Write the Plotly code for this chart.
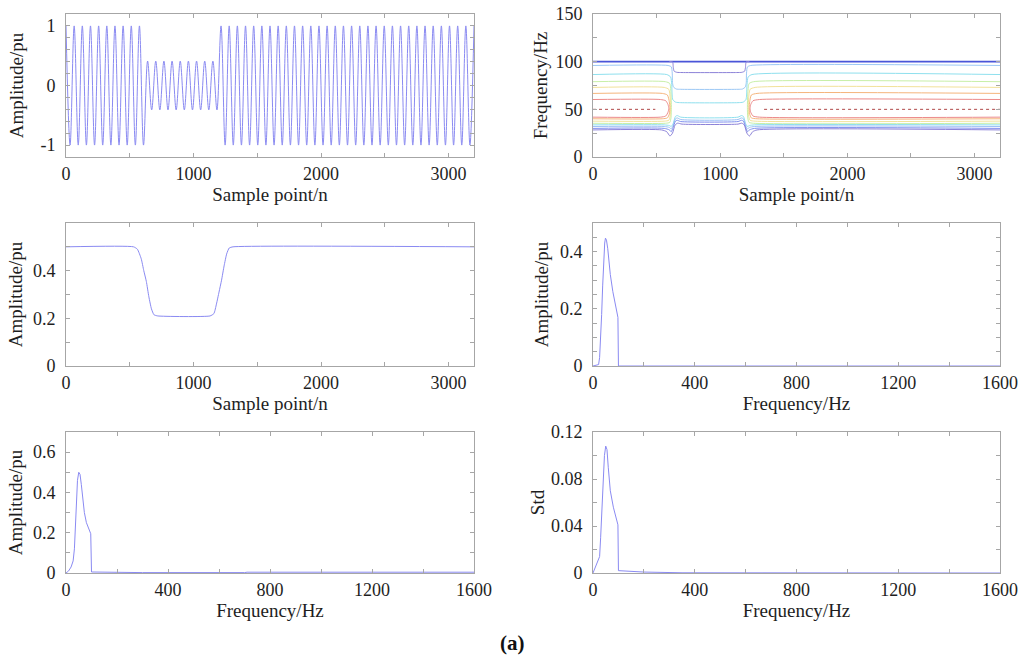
import plotly.graph_objects as go
from plotly.subplots import make_subplots

# ---- signal (extrema every 32 samples) ----
sig_n = list(range(0, 3201, 32))
sig_v = [
    1, -1, 1, -1, 1, -1, 1, -1, 1, -1,
    1, -1, 1, -1, 1, -1, 1, -1, 1, -1,
    0.41, -0.41, 0.41, -0.41, 0.41, -0.41, 0.41, -0.41, 0.41, -0.41,
    0.41, -0.41, 0.41, -0.41, 0.41, -0.41, 0.41, -0.41,
    1, -1, 1, -1, 1, -1, 1, -1, 1, -1,
    1, -1, 1, -1, 1, -1, 1, -1, 1, -1,
    1, -1, 1, -1, 1, -1, 1, -1, 1, -1,
    1, -1, 1, -1, 1, -1, 1, -1, 1, -1,
    1, -1, 1, -1, 1, -1, 1, -1, 1, -1,
    1, -1, 1, -1, 1, -1, 1, -1, 1, -1,
    1, -1, 1,
]

# ---- amplitude envelope (middle-left) ----
env_n = [0, 530, 560, 590, 610, 630, 650, 670, 690, 720, 1130, 1160, 1180, 1200, 1220, 1240, 1260, 1280, 1310, 3200]
env_v = [0.5, 0.5, 0.49, 0.45, 0.40, 0.355, 0.29, 0.24, 0.215, 0.21, 0.21, 0.22, 0.26, 0.31, 0.36, 0.42, 0.47, 0.495, 0.5, 0.5]

# ---- spectra ----
spec1_f = [0, 10, 22, 26, 30, 34, 38, 42, 46, 49, 53, 58, 63, 68, 78, 88, 98, 100, 1600]
spec1_v = [0, 0.002, 0.005, 0.03, 0.09, 0.18, 0.28, 0.37, 0.43, 0.447, 0.44, 0.41, 0.36, 0.32, 0.26, 0.21, 0.17, 0.0, 0.0]

spec2_f = [0, 10, 20, 28, 33, 37, 41, 45, 50, 55, 60, 66, 72, 80, 90, 97, 100, 300, 700, 710, 1600]
spec2_v = [0, 0.01, 0.03, 0.06, 0.12, 0.25, 0.37, 0.46, 0.5, 0.49, 0.44, 0.36, 0.3, 0.25, 0.215, 0.195, 0.005, 0.002, 0.002, 0.004, 0.004]

std_f = [0, 10, 26, 30, 35, 40, 45, 50, 55, 60, 68, 80, 90, 98, 100, 150, 200, 350, 1600]
std_v = [0, 0.006, 0.014, 0.03, 0.05, 0.08, 0.1, 0.108, 0.105, 0.09, 0.07, 0.056, 0.047, 0.041, 0.002, 0.0015, 0.0008, 0.0002, 0.0]

# ---- contour lines of the time-frequency map (top-right) ----
c100_x = [0, 3200]
c100_y = [100, 100]

cpur_up_x = [600, 624, 629, 631, 638, 660, 700, 1130, 1170, 1192, 1199, 1201, 1206, 1230]
cpur_up_y = [100, 100, 98, 94, 90, 88.8, 88.6, 88.6, 88.8, 90, 94, 98, 100, 100]

clbl_up_x = [0, 590, 616, 623, 625, 632, 655, 690, 1140, 1175, 1198, 1205, 1207, 1214, 1240, 3200]
clbl_up_y = [96, 96, 94.5, 88, 78, 73.5, 71.3, 71, 71, 71.3, 73.5, 78, 88, 94.5, 96, 96]

ccyan_up_x = [0, 580, 610, 619, 622, 628, 650, 690, 1140, 1180, 1202, 1208, 1211, 1220, 1250, 3200]
ccyan_up_y = [86.5, 86.5, 84, 76, 65, 60, 57.5, 57, 57, 57.5, 60, 65, 76, 84, 86.5, 86.5]

cgreen_x = [0, 570, 604, 613, 616, 613, 604, 570, 0, None, 3200, 1262, 1227, 1217, 1214, 1217, 1227, 1262, 3200]
cgreen_y = [79, 79, 77, 66, 52, 41, 36.3, 35.4, 35.4, None, 79, 79, 77, 66, 52, 41, 36.3, 35.4, 35.4]

cyell_x = [0, 560, 596, 607, 610, 607, 596, 560, 0, None, 3200, 1275, 1235, 1224, 1221, 1224, 1235, 1275, 3200]
cyell_y = [73, 73, 71, 62, 52, 43, 38.5, 37.6, 37.6, None, 73, 73, 71, 62, 52, 43, 38.5, 37.6, 37.6]

corng_x = [0, 545, 585, 600, 604, 600, 585, 545, 0, None, 3200, 1290, 1245, 1232, 1228, 1232, 1245, 1290, 3200]
corng_y = [66.7, 66.7, 65, 58, 52, 45, 41, 40.1, 40.1, None, 66.7, 66.7, 65, 58, 52, 45, 41, 40.1, 40.1]

cred_x = [0, 530, 572, 590, 596, 590, 572, 530, 0, None, 3200, 1310, 1258, 1240, 1235, 1240, 1258, 1310, 3200]
cred_y = [60.3, 60.3, 59, 55, 51, 47, 43, 41.8, 41.8, None, 60.3, 60.3, 59, 55, 51, 47, 43, 41.8, 41.8]

clow_x = [0, 560, 600, 615, 630, 648, 662, 690, 1140, 1168, 1183, 1200, 1215, 1230, 1270, 3200]
ccyan_lo_y = [33.7, 33.7, 33, 32, 35, 42.5, 43.5, 41.8, 41.8, 43.5, 42.5, 35, 32, 33, 33.7, 33.7]
clbl_lo_y = [32, 32, 31, 29.5, 33, 40, 41, 39.3, 39.3, 41, 40, 33, 29.5, 31, 32, 32]
cblue_lo_y = [30, 30, 28.5, 26.5, 31, 37.5, 38.5, 37.2, 37.2, 38.5, 37.5, 31, 26.5, 28.5, 30, 30]

cpur_lo_x = [0, 540, 580, 605, 625, 645, 665, 700, 1140, 1170, 1190, 1210, 1230, 1255, 1290, 3200]
cpur_lo_y = [28.4, 28.4, 26.5, 22, 25, 33.5, 35.5, 34.5, 34.5, 35.5, 33.5, 25, 22, 26.5, 28.4, 28.4]

cridge_x = [0, 490, None, 1345, 3200]
cridge_y = [50, 50, None, 50, 50]

# ---- tick labels ----
n_ticks = [0, 500, 1000, 1500, 2000, 2500, 3000]
n_text = ['0', '', '1000', '', '2000', '', '3000']
f_ticks = [0, 200, 400, 600, 800, 1000, 1200, 1400, 1600]
f_text = ['0', '', '400', '', '800', '', '1200', '', '1600']
sig_ticks = [-1, -0.8, -0.6, -0.4, -0.2, 0, 0.2, 0.4, 0.6, 0.8, 1]
sig_text = ['-1', '', '', '', '', '0', '', '', '', '', '1']
hz_ticks = [0, 25, 50, 75, 100, 125, 150]
hz_text = ['0', '', '50', '', '100', '', '150']
env_ticks = [0, 0.1, 0.2, 0.3, 0.4, 0.5]
env_text = ['0', '', '0.2', '', '0.4', '']
s1_ticks = [0, 0.05, 0.1, 0.15, 0.2, 0.25, 0.3, 0.35, 0.4, 0.45]
s1_text = ['0', '', '', '', '0.2', '', '', '', '0.4', '']
s2_ticks = [0, 0.1, 0.2, 0.3, 0.4, 0.5, 0.6]
s2_text = ['0', '', '0.2', '', '0.4', '', '0.6']
std_ticks = [0, 0.02, 0.04, 0.06, 0.08, 0.1, 0.12]
std_text = ['0', '', '0.04', '', '0.08', '', '0.12']

line_col = '#8a8af2'
FONT = 'Liberation Serif'
TXT = '#1e1e1e'

fig = make_subplots(rows=3, cols=2)

fig.add_trace(go.Scatter(x=sig_n, y=sig_v, mode='lines',
                         line=dict(color=line_col, width=1, shape='spline', smoothing=1.0)), row=1, col=1)

contours = [
    (c100_x, c100_y, '#4a55d8', 1.6, 'solid'),
    (cpur_up_x, cpur_up_y, '#8c82d8', 1, 'solid'),
    (clbl_up_x, clbl_up_y, '#9cc8f5', 1, 'solid'),
    (ccyan_up_x, ccyan_up_y, '#8fe0ee', 1, 'solid'),
    (cgreen_x, cgreen_y, '#c8efa8', 1, 'solid'),
    (cyell_x, cyell_y, '#f2e29a', 1, 'solid'),
    (corng_x, corng_y, '#f5b57c', 1, 'solid'),
    (cred_x, cred_y, '#ec8a8a', 1, 'solid'),
    (clow_x, ccyan_lo_y, '#8fe0ee', 1, 'solid'),
    (clow_x, clbl_lo_y, '#9cc0f5', 1, 'solid'),
    (clow_x, cblue_lo_y, '#7f90ee', 1, 'solid'),
    (cpur_lo_x, cpur_lo_y, '#8c82d8', 1, 'solid'),
    (cridge_x, cridge_y, '#b04848', 1, 'dot'),
]
for cx, cy, col, w, dash in contours:
    fig.add_trace(go.Scatter(x=cx, y=cy, mode='lines',
                             line=dict(color=col, width=w, dash=dash, shape='spline', smoothing=0.6)),
                  row=1, col=2)

fig.add_trace(go.Scatter(x=env_n, y=env_v, mode='lines',
                         line=dict(color=line_col, width=1, shape='spline', smoothing=0.5)), row=2, col=1)
fig.add_trace(go.Scatter(x=spec1_f, y=spec1_v, mode='lines',
                         line=dict(color=line_col, width=1)), row=2, col=2)
fig.add_trace(go.Scatter(x=spec2_f, y=spec2_v, mode='lines',
                         line=dict(color=line_col, width=1)), row=3, col=1)
fig.add_trace(go.Scatter(x=std_f, y=std_v, mode='lines',
                         line=dict(color=line_col, width=1)), row=3, col=2)

xdom_l = [66 / 1024, 474 / 1024]
xdom_r = [593 / 1024, 1000 / 1024]
ydoms = [[1 - 157 / 671, 1 - 14 / 671], [1 - 366 / 671, 1 - 223 / 671], [1 - 573 / 671, 1 - 432 / 671]]

axis_common = dict(showline=True, linecolor='#a6a6a6', linewidth=1, mirror='allticks',
                   ticks='inside', ticklen=4, tickcolor='#a6a6a6', showgrid=False, zeroline=False,
                   automargin=False, tickfont=dict(family=FONT, size=18, color=TXT))

xspec = [
    (1, 1, [0, 3200], n_ticks, n_text, 'Sample point/n'),
    (1, 2, [0, 3200], n_ticks, n_text, 'Sample point/n'),
    (2, 1, [0, 3200], n_ticks, n_text, 'Sample point/n'),
    (2, 2, [0, 1600], f_ticks, f_text, 'Frequency/Hz'),
    (3, 1, [0, 1600], f_ticks, f_text, 'Frequency/Hz'),
    (3, 2, [0, 1600], f_ticks, f_text, 'Frequency/Hz'),
]
for r, c, rng, tv, tt, title in xspec:
    fig.update_xaxes(range=rng, tickvals=tv, ticktext=tt, domain=xdom_l if c == 1 else xdom_r,
                     title=dict(text=title, font=dict(family=FONT, size=19, color=TXT), standoff=3),
                     **axis_common, row=r, col=c)

yspec = [
    (1, 1, [-1.2, 1.2], sig_ticks, sig_text, 'Amplitude/pu', 11),
    (1, 2, [0, 150], hz_ticks, hz_text, 'Frequency/Hz', 2),
    (2, 1, [0, 0.6], env_ticks, env_text, 'Amplitude/pu', 5),
    (2, 2, [0, 0.5], s1_ticks, s1_text, 'Amplitude/pu', 6),
    (3, 1, [0, 0.7], s2_ticks, s2_text, 'Amplitude/pu', 5),
    (3, 2, [0, 0.12], std_ticks, std_text, 'Std', 1),
]
for r, c, rng, tv, tt, title, so in yspec:
    fig.update_yaxes(range=rng, tickvals=tv, ticktext=tt, domain=ydoms[r - 1],
                     ticklabelstandoff=6,
                     title=dict(text=title, font=dict(family=FONT, size=19, color=TXT), standoff=so),
                     **axis_common, row=r, col=c)

fig.update_layout(
    width=1024, height=671,
    margin=dict(l=0, r=0, t=0, b=0),
    paper_bgcolor='white', plot_bgcolor='white',
    showlegend=False,
    annotations=[dict(text='<b>(a)</b>', xref='paper', yref='paper', x=0.5, y=1 - 657 / 671,
                      showarrow=False, font=dict(family=FONT, size=21, color='#111'))]
)

fig.write_html("out.html", config={'displayModeBar': False},
               post_script="document.body.style.margin='0px';")
